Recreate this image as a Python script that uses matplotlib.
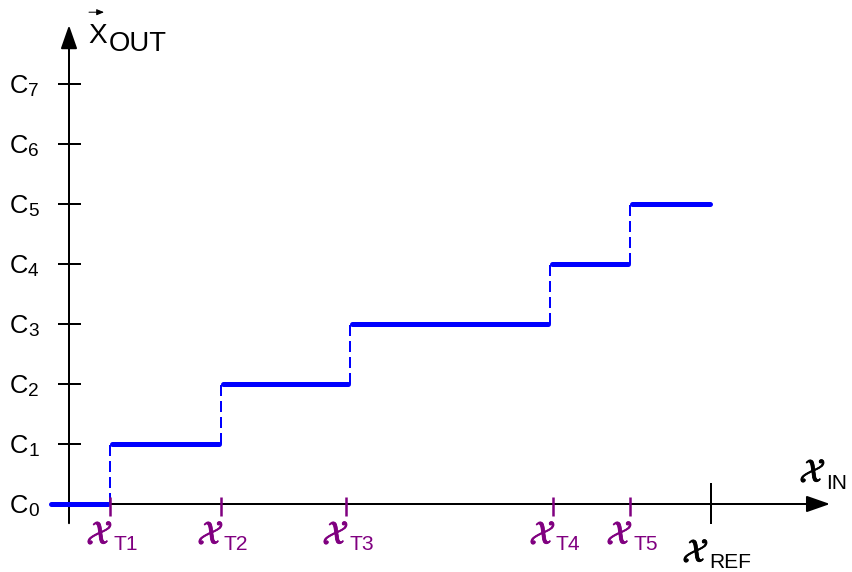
import matplotlib
matplotlib.use("Agg")
import matplotlib.pyplot as plt
import matplotlib.patheffects as pe
from matplotlib.transforms import offset_copy

# ---------------- data ----------------
y_levels = [0, 1, 2, 3, 4, 5, 6, 7]
y_tick_subs = ["0", "1", "2", "3", "4", "5", "6", "7"]

x_tick_positions = [41, 152, 277, 484, 561]
x_tick_subs = ["T1", "T2", "T3", "T4", "T5"]
x_ref = 642
x_ref_sub = "REF"

step_edges = [-20, 41, 152, 281, 481, 561, 643]
step_levels = [0, 1, 2, 3, 4, 5]

# ---------------- style ----------------
BLUE = "#0000FF"
PURPLE = "#800080"
FONT = "Liberation Sans"
W, H, DPI = 852, 572, 72

fig = plt.figure(figsize=(W / DPI, H / DPI), dpi=DPI)
ax = fig.add_axes([0, 0, 1, 1])
ax.set_xlim(-69, 783)
ax.set_ylim(-68 / 60, 504 / 60)
ax.axis("off")

Y_TOP = 7.98
Y_BOT = -0.32
X_END = 761

arrow_kw = dict(arrowstyle="-|>,head_length=2.0,head_width=0.7", color="black",
                lw=2, shrinkA=0, shrinkB=0, mutation_scale=10)
# y axis
ax.annotate("", xy=(0, Y_TOP), xytext=(0, Y_BOT), arrowprops=arrow_kw)
# x axis
ax.annotate("", xy=(X_END, 0), xytext=(0, 0), arrowprops=arrow_kw)

# y ticks
ax.hlines(y_levels[1:], -11, 12, color="black", lw=2)
for lv, sub in zip(y_levels, y_tick_subs):
    ax.annotate("C", xy=(0, lv), xytext=(-41, -9), textcoords="offset points",
                ha="right", va="baseline", fontsize=25.5, family=FONT)
    ax.annotate(sub, xy=(0, lv), xytext=(-41, -12), textcoords="offset points",
                ha="left", va="baseline", fontsize=19, family=FONT)

# step function
for k, lv in enumerate(step_levels):
    ax.plot([step_edges[k] + 2, step_edges[k + 1] - 2], [lv, lv], color=BLUE, lw=5,
            solid_capstyle="round", zorder=3)
    if k > 0:
        ax.plot([step_edges[k], step_edges[k]], [lv - 1, lv], color=BLUE, lw=2,
                dashes=(5.5, 2.5), zorder=3)

# x ticks (thresholds)
ax.vlines(x_tick_positions, -0.2, 0.117, color=PURPLE, lw=2.5, zorder=4)
ax.vlines([x_ref], -0.333, 0.35, color="black", lw=2, zorder=4)


def xlabel(x, y, sub, color, dx, dy, sdy):
    ax.annotate(r"$\mathcal{X}$", xy=(x, y), xytext=(dx, dy), textcoords="offset points",
                ha="right", va="baseline", fontsize=33, math_fontfamily="stix",
                color=color,
                path_effects=[pe.withStroke(linewidth=0.8, foreground=color)])
    ax.annotate(sub, xy=(x, y), xytext=(dx, sdy), textcoords="offset points",
                ha="left", va="baseline", fontsize=21, family=FONT, color=color)


for xp, sub in zip(x_tick_positions, x_tick_subs):
    xlabel(xp, 0, sub, PURPLE, 3, -40, -46)
xlabel(x_ref, 0, x_ref_sub, "black", -2, -58, -64)
xlabel(X_END, 0, "IN", "black", -4, 22, 15)

# X_OUT label
ax.annotate("X", xy=(0, Y_TOP), xytext=(19, -18), textcoords="offset points",
            ha="left", va="baseline", fontsize=28, family=FONT)
ax.annotate("OUT", xy=(0, Y_TOP), xytext=(40, -26), textcoords="offset points",
            ha="left", va="baseline", fontsize=27.5, family=FONT)
tA = offset_copy(ax.transData, fig=fig, x=20, y=13, units="dots")
tB = offset_copy(ax.transData, fig=fig, x=35, y=13, units="dots")
ax.annotate("", xy=(0, Y_TOP), xycoords=tB, xytext=(0, Y_TOP), textcoords=tA,
            arrowprops=dict(arrowstyle="-|>,head_length=0.6,head_width=0.25",
                            color="black", lw=1, shrinkA=0, shrinkB=0,
                            mutation_scale=10))

fig.savefig("out.png", dpi=DPI, facecolor="white")
